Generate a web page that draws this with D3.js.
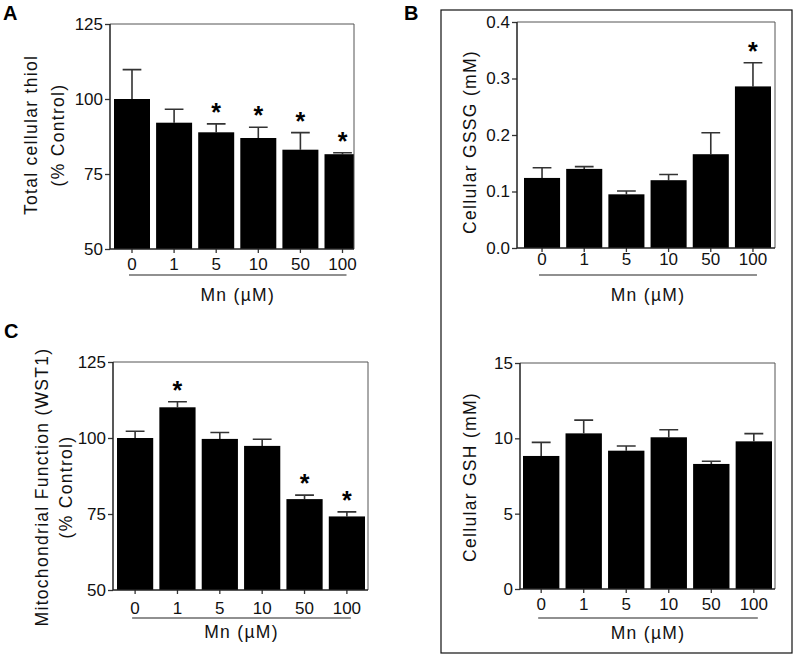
<!DOCTYPE html>
<html>
<head>
<meta charset="utf-8">
<script src="https://cdn.jsdelivr.net/npm/d3@7"></script>
<style>
  body { margin: 0; background: #fff; }
  svg { display: block; font-family: "Liberation Sans", Arial, sans-serif; }
  .tick text { font-size: 17px; fill: #111; }
  .tick line { stroke: #333; stroke-width: 1.3; }
  .title { font-size: 17.5px; letter-spacing: 1.3px; fill: #111; }
  .letter { font-size: 20px; font-weight: bold; fill: #000; }
  .star { font-size: 25px; font-weight: bold; fill: #000; }
</style>
</head>
<body>
<svg width="796" height="658"></svg>
<script>
// Mn doses (µM) shared by every panel
const doses = ["0", "1", "5", "10", "50", "100"];

// A: total cellular thiol (% control)
const thiolMean = [100, 92.1, 88.9, 87.0, 83.1, 81.6];
const thiolErr  = [9.8, 4.5, 2.8, 3.6, 5.7, 0.5];
const thiolSig  = [false, false, true, true, true, true];
const thiolTicks = [50, 75, 100, 125];

// B top: cellular GSSG (mM)
const gssgMean = [0.124, 0.140, 0.095, 0.120, 0.166, 0.286];
const gssgErr  = [0.018, 0.004, 0.006, 0.010, 0.038, 0.042];
const gssgSig  = [false, false, false, false, false, true];
const gssgTicks = [0, 0.1, 0.2, 0.3, 0.4];

// B bottom: cellular GSH (mM)
const gshMean = [8.83, 10.33, 9.18, 10.07, 8.30, 9.80];
const gshErr  = [0.90, 0.88, 0.31, 0.50, 0.18, 0.51];
const gshSig  = [false, false, false, false, false, false];
const gshTicks = [0, 5, 10, 15];

// C: mitochondrial function, WST1 (% control)
const wstMean = [100.0, 110.1, 99.7, 97.4, 79.9, 74.2];
const wstErr  = [2.2, 1.8, 2.1, 2.2, 1.3, 1.5];
const wstSig  = [false, true, false, false, true, true];
const wstTicks = [50, 75, 100, 125];

const svg = d3.select("svg");

// frame round panel B
svg.append("rect")
   .attr("x", 441).attr("y", 10)
   .attr("width", 351).attr("height", 643)
   .attr("fill", "none")
   .attr("stroke", "#111")
   .attr("stroke-width", 1.2);

svg.append("text").attr("class", "letter").attr("x", 3).attr("y", 20).text("A");
svg.append("text").attr("class", "letter").attr("x", 404).attr("y", 20).text("B");
svg.append("text").attr("class", "letter").attr("x", 4).attr("y", 338).text("C");

drawPanel({
	id: "a", mean: thiolMean, err: thiolErr, sig: thiolSig,
	domain: [50, 125], ticks: thiolTicks, fmt: d3.format("d"),
	left: 110, right: 354, top: 24, bottom: 249,
	barStart: 114, barEnd: 360.5, labelPad: 5,
	lineY: 275, mnY: 301,
	titles: [["Total cellular thiol", 31], ["(% Control)", 58]], titleY: 135
});

drawPanel({
	id: "b1", mean: gssgMean, err: gssgErr, sig: gssgSig,
	domain: [0, 0.4], ticks: gssgTicks, fmt: d3.format(".1f"),
	left: 517, right: 775, top: 22, bottom: 248,
	barStart: 524, barEnd: 771, labelPad: 1,
	lineY: 275, mnY: 301,
	titles: [["Cellular GSSG (mM)", 470]], titleY: 142
});

drawPanel({
	id: "b2", mean: gshMean, err: gshErr, sig: gshSig,
	domain: [0, 15], ticks: gshTicks, fmt: d3.format("d"),
	left: 520, right: 775, top: 363, bottom: 589,
	barStart: 523, barEnd: 772, labelPad: 5,
	lineY: 618, mnY: 639,
	titles: [["Cellular GSH (mM)", 470]], titleY: 477
});

drawPanel({
	id: "c", mean: wstMean, err: wstErr, sig: wstSig,
	domain: [50, 125], ticks: wstTicks, fmt: d3.format("d"),
	left: 113, right: 368, top: 362, bottom: 590,
	barStart: 117, barEnd: 365, labelPad: 8,
	lineY: 618, mnY: 638,
	titles: [["Mitochondrial Function (WST1)", 42], ["(% Control)", 66]], titleY: 487
});

function drawPanel(p) {
	const g = svg.append("g").attr("id", "panel-" + p.id);

	const x = d3.scaleBand()
				.domain(doses)
				.range([p.barStart, p.barEnd])
				.paddingInner(0.145)
				.paddingOuter(0);
	const y = d3.scaleLinear()
				.domain(p.domain)
				.range([p.bottom, p.top]);

	const bw = x.bandwidth();
	const data = doses.map((d, i) => ({ dose: d, mean: p.mean[i], err: p.err[i], sig: p.sig[i] }));

	g.append("clipPath")
	 .attr("id", "clip-" + p.id)
	 .append("rect")
	 .attr("x", p.left).attr("y", p.top - 40)
	 .attr("width", p.right - p.left).attr("height", p.bottom - p.top + 40);

	const plot = g.append("g").attr("clip-path", `url(#clip-${p.id})`);

	// error bars (upper only)
	plot.selectAll(".err")
		.data(data)
		.enter()
		.append("path")
		.attr("class", "err")
		.attr("d", d => {
			const cx = x(d.dose) + bw / 2;
			const yt = y(d.mean + d.err);
			return `M${cx},${y(d.mean)}V${yt}M${cx - bw * 0.26},${yt}H${cx + bw * 0.26}`;
		})
		.attr("fill", "none")
		.attr("stroke", "#333")
		.attr("stroke-width", 1.6);

	plot.selectAll(".bar")
		.data(data)
		.enter()
		.append("rect")
		.attr("class", "bar")
		.attr("x", d => x(d.dose))
		.attr("y", d => y(d.mean))
		.attr("width", bw)
		.attr("height", d => p.bottom - y(d.mean))
		.attr("fill", "#000");

	g.selectAll(".star")
	 .data(data.filter(d => d.sig))
	 .enter()
	 .append("text")
	 .attr("class", "star")
	 .attr("text-anchor", "middle")
	 .attr("x", d => x(d.dose) + bw / 2)
	 .attr("y", d => y(d.mean + d.err) - 3)
	 .text("*");

	// frame: top/right lighter than the axes
	g.append("path")
	 .attr("d", `M${p.left},${p.top}H${p.right}V${p.bottom}`)
	 .attr("fill", "none").attr("stroke", "#555").attr("stroke-width", 1);

	const yg = g.append("g")
				.attr("transform", `translate(${p.left},0)`)
				.call(d3.axisLeft(y).tickValues(p.ticks).tickFormat(p.fmt)
						.tickSize(5).tickPadding(2).tickSizeOuter(0));
	const xg = g.append("g")
				.attr("transform", `translate(0,${p.bottom})`)
				.call(d3.axisBottom(x).tickSize(4).tickPadding(p.labelPad).tickSizeOuter(0));

	[xg, yg].forEach(a => {
		a.attr("font-size", null).attr("font-family", null);
		a.select(".domain").remove();
	});

	g.append("path")
	 .attr("d", `M${p.left},${p.top}V${p.bottom}H${p.right}`)
	 .attr("fill", "none").attr("stroke", "#222").attr("stroke-width", 1.5);

	// dose underline and unit label
	const x0 = x(doses[0]) + bw / 2 - 3;
	const x1 = x(doses[doses.length - 1]) + bw / 2 + 4;
	g.append("line")
	 .attr("x1", x0).attr("x2", x1)
	 .attr("y1", p.lineY).attr("y2", p.lineY)
	 .attr("stroke", "#222").attr("stroke-width", 1.2);
	g.append("text")
	 .attr("class", "title")
	 .attr("text-anchor", "middle")
	 .attr("x", (x0 + x1) / 2)
	 .attr("y", p.mnY)
	 .text("Mn (\u00B5M)");

	p.titles.forEach(([label, cx]) => {
		g.append("text")
		 .attr("class", "title")
		 .attr("text-anchor", "middle")
		 .attr("transform", `translate(${cx},${p.titleY}) rotate(-90)`)
		 .attr("dy", "0.35em")
		 .text(label);
	});
}
</script>
</body>
</html>
